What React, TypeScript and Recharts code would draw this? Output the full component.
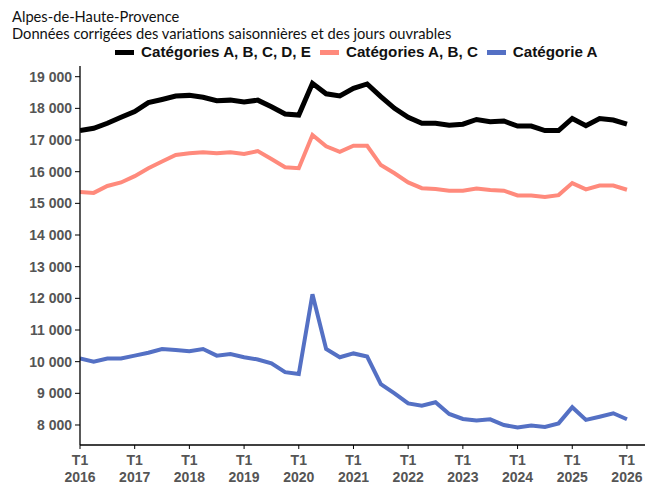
import { LineChart, Line, XAxis, YAxis } from 'recharts'

// Demandeurs d'emploi, Alpes-de-Haute-Provence, données CVS-CJO trimestrielles (T1 2016 -> T1 2026)
const years = ['2016', '2017', '2018', '2019', '2020', '2021', '2022', '2023', '2024', '2025', '2026']

const catABCDE = [
  17300, 17370, 17530, 17720, 17900, 18180, 18280, 18390, 18410, 18350,
  18240, 18260, 18200, 18260, 18050, 17820, 17790, 18790, 18460, 18390,
  18630, 18770, 18370, 18000, 17720, 17530, 17530, 17470, 17500, 17650,
  17580, 17600, 17440, 17440, 17300, 17300, 17680, 17450, 17680, 17630,
  17500,
]

const catABC = [
  15360, 15330, 15550, 15660, 15860, 16110, 16320, 16530, 16580, 16610,
  16580, 16610, 16560, 16650, 16400, 16140, 16110, 17160, 16800, 16630,
  16820, 16820, 16210, 15950, 15660, 15480, 15450, 15400, 15400, 15470,
  15420, 15400, 15250, 15250, 15200, 15260, 15640, 15440, 15560, 15560,
  15430,
]

const catA = [
  10100, 10000, 10100, 10100, 10190, 10280, 10400, 10370, 10330, 10400,
  10190, 10240, 10140, 10070, 9950, 9670, 9610, 12130, 10400, 10140,
  10260, 10160, 9290, 9000, 8680, 8610, 8720, 8350, 8190, 8140,
  8180, 8000, 7920, 7980, 7940, 8050, 8560, 8160, 8260, 8370,
  8180,
]

const yTicks = [8000, 9000, 10000, 11000, 12000, 13000, 14000, 15000, 16000, 17000, 18000, 19000]

const series = [
  { key: 'abcde', name: 'Catégories A, B, C, D, E', color: '#000000', width: 5 },
  { key: 'abc', name: 'Catégories A, B, C', color: '#FF8A7C', width: 4 },
  { key: 'a', name: 'Catégorie A', color: '#5470C4', width: 4 },
]

const data = catABCDE.map((v, i) => ({ q: i, abcde: v, abc: catABC[i], a: catA[i] }))

const TICK_COLOR = '#555555'
const TICK_FONT = '"Liberation Sans", Arial, sans-serif'

const fmt = (v: number) => String(v).replace(/\B(?=(\d{3})+(?!\d))/g, ' ')

function QuarterTick({ x, y, payload }: any) {
  const year = years[Math.round(payload.value / 4)]
  return (
    <g transform={`translate(${x},${y})`}>
      <text textAnchor="middle" fill={TICK_COLOR} fontSize={14} fontWeight="bold" fontFamily={TICK_FONT}>
        <tspan x={0} dy={14}>T1</tspan>
        <tspan x={0} dy={16.5}>{year}</tspan>
      </text>
    </g>
  )
}

const titleStyle = {
  position: 'absolute' as const,
  left: 12,
  height: 15,
  fontFamily: 'Lato, "Noto Sans", sans-serif',
  fontSize: 14.7,
  lineHeight: '15px',
  color: '#111',
  whiteSpace: 'nowrap' as const,
}

export default function App() {
  return (
    <div style={{ position: 'absolute', left: 0, top: 0, width: 656, height: 483, background: '#fff', overflow: 'hidden' }}>
      <div style={{ ...titleStyle, top: 9 }}>Alpes-de-Haute-Provence</div>
      <div style={{ ...titleStyle, top: 26 }}>Données corrigées des variations saisonnières et des jours ouvrables</div>

      <div
        style={{
          position: 'absolute',
          left: 115,
          top: 43,
          display: 'flex',
          alignItems: 'center',
          gap: 9,
          fontFamily: TICK_FONT,
          fontWeight: 'bold',
          fontSize: 15.2,
          lineHeight: '18px',
          color: '#111',
          whiteSpace: 'nowrap',
        }}
      >
        {series.map((s) => (
          <span key={s.key} style={{ display: 'flex', alignItems: 'center', gap: 7 }}>
            <span style={{ width: 19, height: 5, background: s.color, display: 'inline-block' }} />
            {s.name}
          </span>
        ))}
      </div>

      <LineChart width={656} height={483} data={data} margin={{ top: 66, right: 11, bottom: 0, left: 0 }}>
        <XAxis
          type="number"
          dataKey="q"
          domain={[0, 41.32]}
          ticks={years.map((_, i) => i * 4)}
          allowDataOverflow
          height={38}
          tick={<QuarterTick />}
          tickSize={4}
          tickMargin={2}
          axisLine={{ stroke: '#000', strokeWidth: 1.3 }}
          tickLine={{ stroke: '#000' }}
        />
        <YAxis
          type="number"
          domain={[7368, 19338]}
          ticks={yTicks}
          allowDataOverflow
          width={80}
          tickSize={5}
          tickMargin={3}
          tickFormatter={fmt}
          tick={{ fill: TICK_COLOR, fontSize: 14, fontWeight: 'bold', fontFamily: TICK_FONT }}
          axisLine={{ stroke: '#000', strokeWidth: 1.3 }}
          tickLine={{ stroke: '#000' }}
        />
        {series.map((s) => (
          <Line
            key={s.key}
            type="linear"
            dataKey={s.key}
            name={s.name}
            stroke={s.color}
            strokeWidth={s.width}
            dot={false}
            activeDot={false}
            isAnimationActive={false}
          />
        ))}
      </LineChart>
    </div>
  )
}
